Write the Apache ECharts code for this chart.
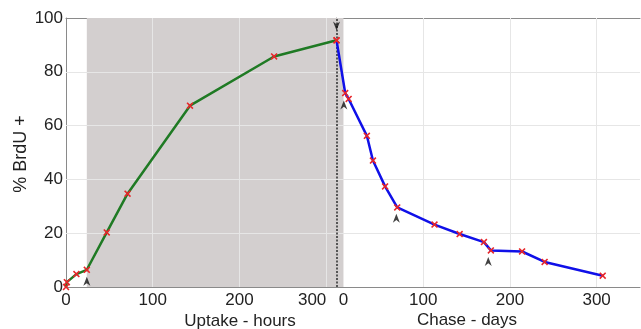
<!DOCTYPE html>
<html><head><meta charset="utf-8">
<script src="https://cdn.jsdelivr.net/npm/echarts@6/dist/echarts.min.js"></script>
<style>html,body{margin:0;padding:0;background:#fff}#c{width:641px;height:329px}</style>
</head><body><div id="c"></div>
<script>
// ---- data ----
const uptakeHours  = [0, 1, 12, 24, 47, 71, 143, 240, 312];
const uptakeValues = [0, 1.8, 4.8, 6.4, 20.3, 34.7, 67.4, 85.7, 91.7];
const chaseDays    = [0, 10, 14, 35, 42, 56, 70, 113, 142, 170, 178, 214, 240, 307];
const chaseValues  = [91.7, 72.1, 69.9, 56.2, 47.0, 37.4, 29.6, 23.2, 19.7, 16.7, 13.6, 13.2, 9.3, 4.2];
const uptakeTicks  = [0, 100, 200, 300];
const chaseTicks   = [0, 100, 200, 300];
const yGridValues  = [20, 40, 60, 80];
const shadeHours   = [24, 320];
const switchHour   = 312;           // end of uptake = chase day 0
const uptakeMaxHour = 662;          // right edge in hour units
const chaseMaxDay  = 350;           // right edge in day units
const upArrowsUptake   = [[24, 2.1]];
const downArrowsUptake = [[312, 97]];
const upArrowsChase    = [[8.4, 67.7], [69, 25.6], [175, 9.5]];

const FONT = 'Liberation Sans, Arial, sans-serif';
const FS = 17;
const AX = '#8a8a8a';
const xMark = 'path://M0,1.6L1.6,0L5,3.4L8.4,0L10,1.6L6.6,5L10,8.4L8.4,10L5,6.6L1.6,10L0,8.4L3.4,5Z';
const arrow = 'path://M5,0L10,10L5,7L0,10Z';
const gridStyle = {color: '#e6e6e6', width: 1, type: 'solid'};

const pair = (xs, ys) => xs.map((x, i) => [x, ys[i]]);

const chart = echarts.init(document.getElementById('c'));
chart.setOption({
  animation: false,
  grid: {left: 66, right: 1, top: 18, bottom: 42, containLabel: false},
  xAxis: [
    {type: 'value', min: 0, max: uptakeMaxHour, position: 'bottom',
     axisLine: {lineStyle: {color: AX}}, splitLine: {show: false},
     axisTick: {inside: true, length: 4, customValues: uptakeTicks, lineStyle: {color: AX}},
     axisLabel: {customValues: uptakeTicks, margin: 5, fontSize: FS, color: '#222', fontFamily: FONT,
       formatter: v => v === 300 ? '{r|300}' : String(v),
       rich: {r: {fontSize: FS, color: '#222', fontFamily: FONT, padding: [0, 28, 0, 0]}}}},
    {type: 'value', min: -switchHour, max: chaseMaxDay, position: 'bottom',
     axisLine: {show: false}, splitLine: {show: false},
     axisTick: {inside: true, length: 4, customValues: chaseTicks, lineStyle: {color: AX}},
     axisLabel: {customValues: chaseTicks, margin: 5, fontSize: FS, color: '#222', fontFamily: FONT,
       formatter: v => v === 0 ? '{l|0}' : String(v),
       rich: {l: {fontSize: FS, color: '#222', fontFamily: FONT, padding: [0, 0, 0, 14]}}}},
    {type: 'value', min: 0, max: uptakeMaxHour, position: 'top',
     axisLine: {lineStyle: {color: AX}}, splitLine: {show: false}, axisLabel: {show: false},
     axisTick: {inside: true, length: 4, customValues: [100, 200, 300, 412, 512, 612], lineStyle: {color: AX}}}
  ],
  yAxis: [
    {type: 'value', min: 0, max: 100, interval: 20, position: 'left',
     axisLine: {show: true, lineStyle: {color: AX}}, splitLine: {show: false},
     axisTick: {show: true, inside: true, length: 4, lineStyle: {color: AX}},
     axisLabel: {margin: 3, fontSize: FS, color: '#222', fontFamily: FONT}},
    {type: 'value', min: 0, max: 100, interval: 20, position: 'right',
     axisLine: {show: true, lineStyle: {color: AX}}, splitLine: {show: false},
     axisTick: {show: true, inside: true, length: 4, lineStyle: {color: AX}},
     axisLabel: {show: false}}
  ],
  series: [
    {type: 'line', name: 'uptake', xAxisIndex: 0, yAxisIndex: 0, z: 3,
     data: pair(uptakeHours, uptakeValues),
     lineStyle: {color: '#1f7a24', width: 2.5},
     symbol: xMark, symbolSize: 7, itemStyle: {color: '#e8262a'},
     markArea: {silent: true, z: 1, itemStyle: {color: '#d3cfcf'},
       data: [[{xAxis: shadeHours[0]}, {xAxis: shadeHours[1]}]]},
     markLine: {silent: true, z: 2, symbol: 'none', label: {show: false}, lineStyle: gridStyle,
       data: uptakeTicks.filter(v => v > 0).map(v => ({xAxis: v}))
         .concat(yGridValues.map(v => ({yAxis: v})))
         .concat([{xAxis: switchHour, lineStyle: {color: '#555', width: 2, type: [2, 1.5]}}])}},
    {type: 'line', name: 'chase', xAxisIndex: 1, yAxisIndex: 0, z: 3,
     data: pair(chaseDays, chaseValues),
     lineStyle: {color: '#1010e8', width: 2.5},
     symbol: xMark, symbolSize: 7, itemStyle: {color: '#e8262a'},
     markLine: {silent: true, z: 2, symbol: 'none', label: {show: false}, lineStyle: gridStyle,
       data: chaseTicks.filter(v => v > 0).map(v => ({xAxis: v}))}},
    {type: 'scatter', xAxisIndex: 0, yAxisIndex: 0, z: 4, data: upArrowsUptake,
     symbol: arrow, symbolSize: [7, 9], itemStyle: {color: '#111'}},
    {type: 'scatter', xAxisIndex: 0, yAxisIndex: 0, z: 4, data: downArrowsUptake,
     symbol: arrow, symbolRotate: 180, symbolSize: [7, 9], itemStyle: {color: '#111'}},
    {type: 'scatter', xAxisIndex: 1, yAxisIndex: 0, z: 4, data: upArrowsChase,
     symbol: arrow, symbolSize: [7, 9], itemStyle: {color: '#111'}}
  ],
  graphic: [
    {type: 'text', x: 240, y: 321, style: {text: 'Uptake - hours', fontSize: FS, fontFamily: FONT, fill: '#222', align: 'center', verticalAlign: 'middle'}},
    {type: 'text', x: 467, y: 320, style: {text: 'Chase - days', fontSize: FS, fontFamily: FONT, fill: '#222', align: 'center', verticalAlign: 'middle'}},
    {type: 'text', x: 21, y: 154, rotation: Math.PI / 2, style: {text: '% BrdU +', fontSize: 18, fontFamily: FONT, fill: '#222', align: 'center', verticalAlign: 'middle'}}
  ]
});
</script>
</body></html>
